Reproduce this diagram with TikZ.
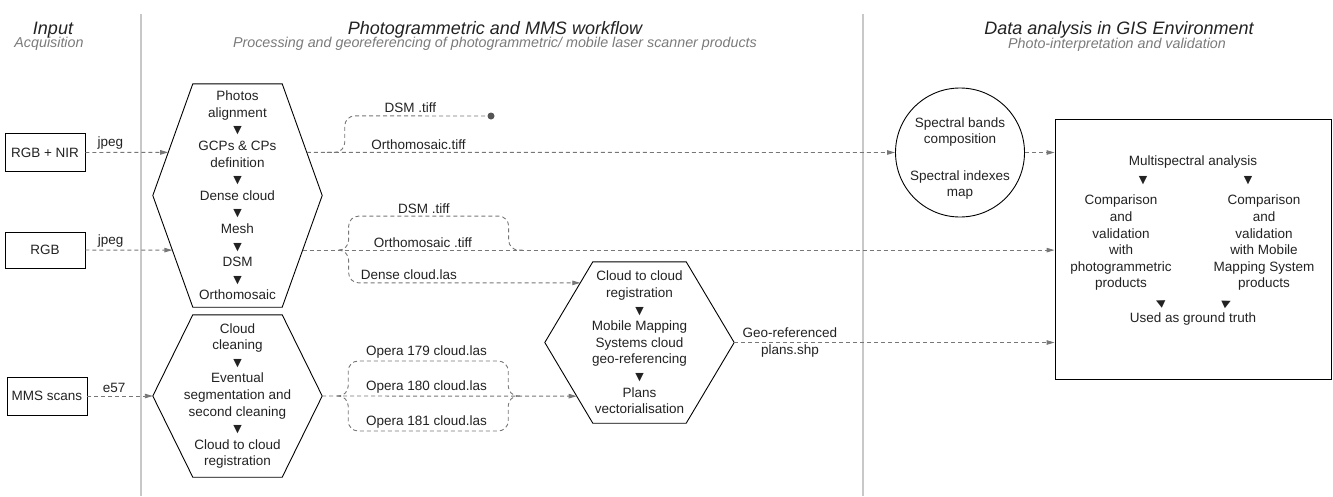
\documentclass[tikz,border=0pt]{standalone}
\usepackage{fontspec}
\setmainfont{Liberation Sans}
\newfontfamily\symfont{DejaVu Sans}
\usetikzlibrary{arrows.meta,calc,positioning}

\definecolor{inkgray}{HTML}{222222}
\definecolor{flowgray}{HTML}{777777}
\definecolor{dotgray}{HTML}{555555}
\definecolor{rulegray}{HTML}{C8C8C8}
\definecolor{subgray}{HTML}{7A7A7A}

\newcommand{\dn}{{\symfont\fontsize{11}{11}\selectfont ▼}}
\newcommand{\hexframe}[2]{%
  \draw[hexline] (#1.west) -- ([xshift=#2]#1.north west) -- ([xshift=-#2]#1.north east)
    -- (#1.east) -- ([xshift=-#2]#1.south east) -- ([xshift=#2]#1.south west) -- cycle;}

\begin{document}
\begin{tikzpicture}[x=1pt, y=-1pt,
    every node/.style={text=inkgray, font=\fontsize{13.5}{16.6}\selectfont},
    head/.style={font=\itshape\fontsize{18}{20}\selectfont},
    subhead/.style={font=\itshape\fontsize{14.3}{16}\selectfont, text=subgray},
    box/.style={rectangle, draw, line width=0.9pt, minimum width=80pt, minimum height=38pt},
    hexbox/.style={align=center, inner sep=0pt},
    hexline/.style={draw, line width=0.9pt},
    flow/.style={draw=flowgray, line width=0.9pt, dash pattern=on 4pt off 3pt},
    tip/.style={-{Triangle[length=8pt,width=4.5pt]}},
    lbl/.style={above, inner sep=2.5pt},
    rule/.style={draw=rulegray, line width=2pt}]
        \useasboundingbox (0,0) rectangle (1333,496);
        \def\slantA{40pt}
        \def\slantC{48pt}

        % column titles
        \node(inputhd) [head] at (53,30) {Input};
        \node(inputsub) [subhead] at (49,44) {Acquisition};
        \node(workhd) [head] at (495,30) {Photogrammetric and MMS workflow};
        \node(worksub) [subhead] at (495,44) {Processing and georeferencing of photogrammetric/ mobile laser scanner products};
        \node(gishd) [head] at (1119,30) {Data analysis in GIS Environment};
        \node(gissub) [subhead] at (1117,45) {Photo-interpretation and validation};
        \draw[rule] (141,14) -- (141,496);
        \draw[rule] (863,14) -- (863,496);

        % inputs
        \node(nir) [box] at (45,152.5) {RGB + NIR};
        \node(rgb) [box, minimum height=36pt] at (45,250) {RGB};
        \node(mms) [box] at (47,396) {MMS scans};

        % processing hexagons
        \node(hexA) [hexbox, minimum width=169pt, minimum height=223pt] at (237.5,195.5)
            {Photos\\alignment\\\dn\\GCPs \& CPs\\definition\\\dn\\Dense cloud\\\dn\\Mesh\\\dn\\DSM\\\dn\\Orthomosaic};
        \hexframe{hexA}{\slantA}
        \node(hexB) [hexbox, minimum width=169pt, minimum height=162pt] at (237.5,396)
            {Cloud\\cleaning\\\dn\\Eventual\\segmentation and\\second cleaning\\\dn\\Cloud to cloud\\registration};
        \hexframe{hexB}{\slantA}
        \node(hexC) [hexbox, minimum width=189pt, minimum height=161pt] at (639.5,342.5)
            {Cloud to cloud\\registration\\\dn\\Mobile Mapping\\Systems cloud\\geo-referencing\\\dn\\Plans\\vectorialisation};
        \hexframe{hexC}{\slantC}

        % GIS side
        \node(spectral) [circle, draw, line width=0.9pt, minimum size=129pt, inner sep=0pt] at (960,152.5) {};
        \node(spectxt) [align=center] at (960,158.5) {Spectral bands\\composition\\[20pt]Spectral indexes\\map};
        \node(gis) [box, minimum width=276pt, minimum height=260pt] at (1193,249) {};
        \node(multi) at (1193,162) {Multispectral analysis};
        \node(dnleft) at (1143,181) {\dn};
        \node(dnright) at (1248,181) {\dn};
        \node(cmpphoto) [align=center] at (1121,243) {Comparison\\and\\validation\\with\\photogrammetric\\products};
        \node(cmpmms) [align=center] at (1264,243) {Comparison\\and\\validation\\with Mobile\\Mapping System\\products};
        \node(upleft) [rotate=-25] at (1160,303) {\symfont\fontsize{11}{11}\selectfont ◀};
        \node(upright) [rotate=25] at (1227,303) {\symfont\fontsize{11}{11}\selectfont ▶};
        \node(ground) at (1193,319) {Used as ground truth};

        % points on the slanted hexagon sides
        \coordinate(inNIR) at ($(hexA.west)!0.386!([xshift=\slantA]hexA.north west)$);
        \coordinate(inRGB) at ($(hexA.west)!0.489!([xshift=\slantA]hexA.south west)$);
        \coordinate(outNIR) at ($(hexA.east)!0.386!([xshift=-\slantA]hexA.north east)$);
        \coordinate(outRGB) at ($(hexA.east)!0.489!([xshift=-\slantA]hexA.south east)$);
        \coordinate(inDense) at ($(hexC.west)!0.739!([xshift=\slantC]hexC.north west)$);
        \coordinate(inOpera) at ($(hexC.west)!0.665!([xshift=\slantC]hexC.south west)$);
        \coordinate(brNIR) at ($(outNIR)+(20,0)$);
        \coordinate(brRGB) at ($(outRGB)+(36,0)$);
        \coordinate(brOpera) at ($(hexB.east)+(15,0)$);
        \node(dsmdot) [circle, fill=dotgray, inner sep=0pt, minimum size=7pt] at (491,116) {};

        % inputs to processing
        \draw[flow, tip] (nir) -- node[lbl, pos=0.3] {jpeg} (inNIR);
        \draw[flow, tip] (rgb) -- node[lbl, pos=0.29] {jpeg} (inRGB);
        \draw[flow, tip] (mms) -- node[lbl, pos=0.41] {e57} (hexB.west);

        % RGB + NIR products
        \draw[flow, tip] (outNIR) -- node[lbl, pos=0.19] {Orthomosaic.tiff} (spectral);
        \draw[flow, rounded corners=10pt] (brNIR) -- ++(18,0) -- ++(0,-36.5) -- node[lbl, pos=0.46] {DSM .tiff} (dsmdot);
        \draw[flow, tip] (spectral) -- (spectral -| gis.west);

        % RGB products
        \draw[flow, tip] (outRGB) -- node[lbl, pos=0.16] {Orthomosaic .tiff} (outRGB -| gis.west);
        \draw[flow, rounded corners=10pt] (brRGB) -- ++(10,0) -- ++(0,-34) -- node[lbl, pos=0.47] {DSM .tiff} ++(160,0) -- ++(0,34) -- ++(14,0);
        \draw[flow, tip, rounded corners=10pt] (brRGB) -- ++(10,0) |- node[lbl, pos=0.63] {Dense cloud.las} (inDense);

        % MMS clouds
        \draw[flow, tip] (hexB.east) -- node[lbl, pos=0.41] {Opera 180 cloud.las} (inOpera);
        \draw[flow, rounded corners=10pt] (brOpera) -- ++(11,0) -- ++(0,-35) -- node[lbl, pos=0.49] {Opera 179 cloud.las} ++(160,0) -- ++(0,35) -- ++(12,0);
        \draw[flow, rounded corners=10pt] (brOpera) -- ++(11,0) -- ++(0,35) -- node[lbl, pos=0.49] {Opera 181 cloud.las} ++(160,0) -- ++(0,-35) -- ++(12,0);

        % plans to GIS
        \draw[flow, tip] (hexC) -- node[pos=0.174, align=center] {Geo-referenced\\plans.shp} (hexC -| gis.west);
\end{tikzpicture}
\end{document}
